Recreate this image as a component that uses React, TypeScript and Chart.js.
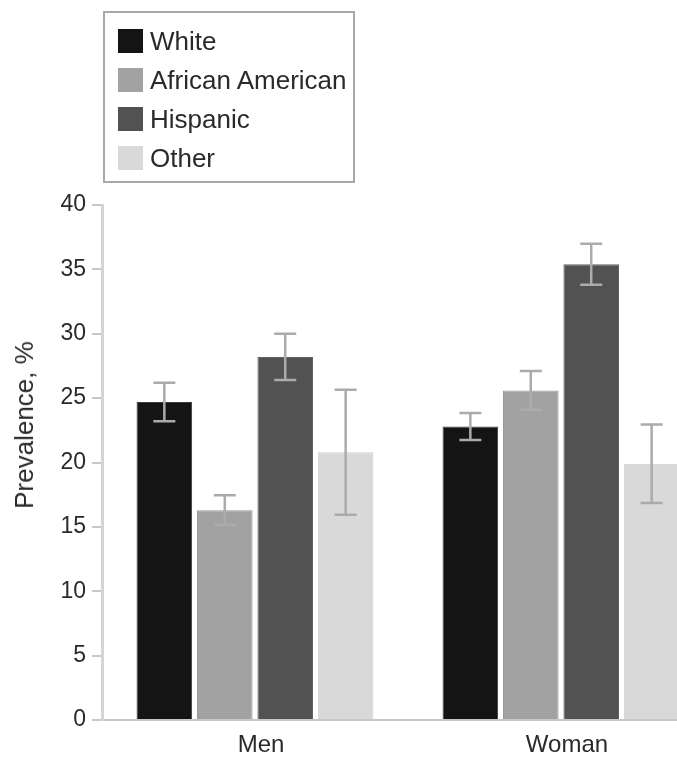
import React, { useEffect, useRef } from "react";
import { Chart, registerables } from "chart.js";

Chart.register(...registerables);

const categories = ["Men", "Woman"];
const seriesNames = ["White", "African American", "Hispanic", "Other"];
const seriesColors = ["#141414", "#a2a2a2", "#525252", "#d9d9d9"];
const seriesBorders = ["#3a3a3a", "#989898", "#626262", "#cfcfcf"];
const yAxisTitle = "Prevalence, %";

const whiteValues = [24.7, 22.8];
const africanAmericanValues = [16.3, 25.6];
const hispanicValues = [28.2, 35.4];
const otherValues = [20.8, 19.9];

const whiteErrors = [1.5, 1.05];
const africanAmericanErrors = [1.15, 1.5];
const hispanicErrors = [1.8, 1.6];
const otherErrors = [4.85, 3.05];

const yTicks = [0, 5, 10, 15, 20, 25, 30, 35, 40];

const seriesValues = [whiteValues, africanAmericanValues, hispanicValues, otherValues];
const seriesErrors = [whiteErrors, africanAmericanErrors, hispanicErrors, otherErrors];

const FONT = "'Liberation Sans', Arial, Helvetica, sans-serif";

const errorBarPlugin = {
  id: "errorBars",
  afterDatasetsDraw(chart: any) {
    const ctx = chart.ctx;
    const yScale = chart.scales.y;
    ctx.save();
    ctx.strokeStyle = "#ababab";
    ctx.lineWidth = 2.5;
    chart.data.datasets.forEach((ds: any, i: number) => {
      const meta = chart.getDatasetMeta(i);
      meta.data.forEach((bar: any, j: number) => {
        const v = ds.data[j];
        const e = seriesErrors[i][j];
        const yTop = yScale.getPixelForValue(v + e);
        const yBot = yScale.getPixelForValue(v - e);
        const x = bar.x;
        const cap = 11;
        ctx.beginPath();
        ctx.moveTo(x, yTop);
        ctx.lineTo(x, yBot);
        ctx.moveTo(x - cap, yTop);
        ctx.lineTo(x + cap, yTop);
        ctx.moveTo(x - cap, yBot);
        ctx.lineTo(x + cap, yBot);
        ctx.stroke();
      });
    });
    ctx.restore();
  },
};

export default function App() {
  const canvasRef = useRef<HTMLCanvasElement | null>(null);

  useEffect(() => {
    if (!canvasRef.current) return;
    const chart = new Chart(canvasRef.current, {
      type: "bar",
      data: {
        labels: categories,
        datasets: seriesNames.map((name, i) => ({
          label: name,
          data: seriesValues[i],
          backgroundColor: seriesColors[i],
          borderColor: seriesBorders[i],
          borderWidth: 1,
          categoryPercentage: 0.79,
          barPercentage: 0.92,
        })),
      },
      options: {
        animation: false,
        responsive: false,
        maintainAspectRatio: false,
        layout: { padding: { top: 205, right: 16, bottom: 0, left: 0 } },
        plugins: {
          legend: { display: false },
          title: { display: false },
          tooltip: { enabled: false },
        },
        scales: {
          x: {
            afterFit: (scale: any) => {
              scale.height = 37;
            },
            grid: { display: true, drawOnChartArea: false, drawTicks: false },
            border: { display: true, color: "#c8c8c8", width: 2 },
            ticks: {
              color: "#2a2a2a",
              padding: 11,
              labelOffset: 6,
              font: { family: FONT, size: 24 },
            },
          },
          y: {
            min: 0,
            max: 40,
            afterFit: (scale: any) => {
              scale.width = 102;
            },
            afterBuildTicks: (scale: any) => {
              scale.ticks = yTicks.map((v) => ({ value: v }));
            },
            grid: {
              display: true,
              drawOnChartArea: false,
              drawTicks: true,
              tickLength: 10,
              color: "#c8c8c8",
              lineWidth: 2,
            },
            border: { display: true, color: "#d4d4d4", width: 3 },
            ticks: {
              color: "#2a2a2a",
              padding: 6,
              font: { family: FONT, size: 23 },
            },
          },
        },
      },
      plugins: [errorBarPlugin],
    });
    return () => chart.destroy();
  }, []);

  return (
    <div
      style={{
        position: "fixed",
        left: 0,
        top: 0,
        width: 677,
        height: 757,
        overflow: "hidden",
        background: "#fff",
      }}
    >
      <canvas
        ref={canvasRef}
        width={730}
        height={757}
        style={{ position: "absolute", left: 0, top: 0, width: 730, height: 757 }}
      />
      <div
        style={{
          position: "absolute",
          left: 24,
          top: 425,
          transform: "translate(-50%, -50%) rotate(-90deg)",
          fontFamily: FONT,
          fontSize: 26,
          color: "#2a2a2a",
          whiteSpace: "nowrap",
          lineHeight: 1,
        }}
      >
        {yAxisTitle}
      </div>
      <div
        style={{
          position: "absolute",
          left: 103,
          top: 11,
          width: 252,
          height: 172,
          boxSizing: "border-box",
          border: "2px solid #a8a8a8",
          paddingTop: 16,
          paddingLeft: 13,
          fontFamily: FONT,
          fontSize: 26,
          color: "#2a2a2a",
          display: "flex",
          flexDirection: "column",
          gap: 15,
        }}
      >
        {seriesNames.map((name, i) => (
          <div
            key={name}
            style={{ display: "flex", alignItems: "center", height: 24, whiteSpace: "nowrap" }}
          >
            <span
              style={{
                display: "inline-block",
                width: 25,
                height: 24,
                background: seriesColors[i],
                marginRight: 7,
                flexShrink: 0,
              }}
            />
            <span>{name}</span>
          </div>
        ))}
      </div>
    </div>
  );
}
